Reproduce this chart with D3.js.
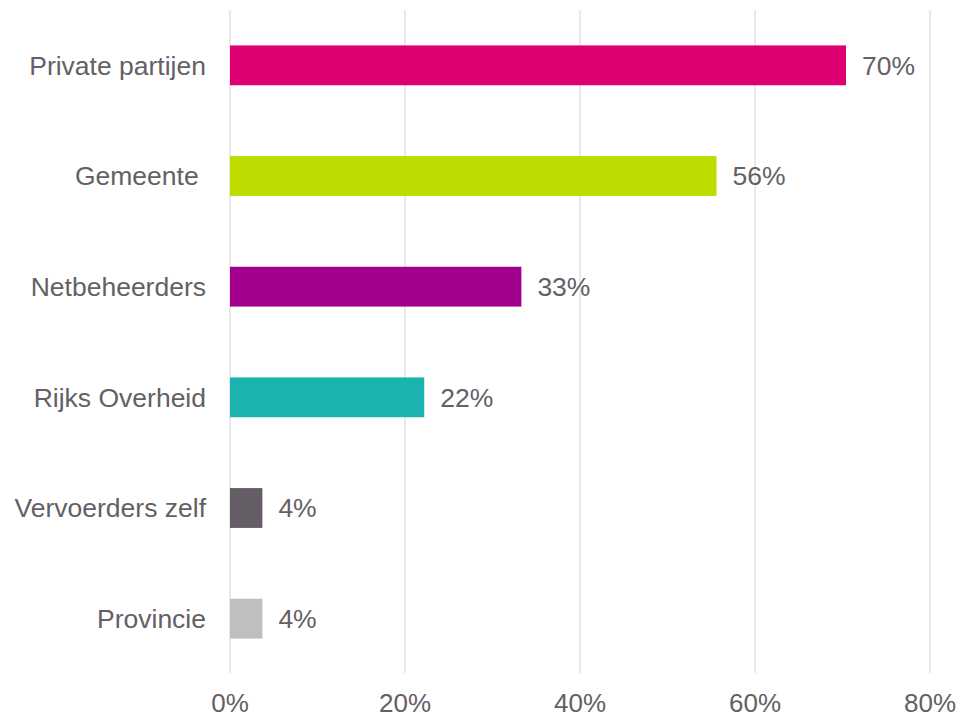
<!DOCTYPE html>
<html>
<head>
<meta charset="utf-8">
<script src="https://cdn.jsdelivr.net/npm/d3@7"></script>
<style>
  html, body { margin: 0; padding: 0; background: #fff; }
  svg text { font-family: "Liberation Sans", Arial, sans-serif; fill: #646066; }
</style>
</head>
<body>
<svg id="chart" width="958" height="718"></svg>
<script>
const categories = ["Private partijen", "Gemeente ", "Netbeheerders", "Rijks Overheid", "Vervoerders zelf", "Provincie"];
const values = [70.4, 55.6, 33.3, 22.2, 3.7, 3.7];
const valueLabels = ["70%", "56%", "33%", "22%", "4%", "4%"];
const colors = ["#DD0072", "#BFDC00", "#A2008C", "#1AB3AD", "#655D65", "#BFBEC0"];
const tickValues = [0, 20, 40, 60, 80];

const svg = d3.select("#chart");
const x = d3.scaleLinear().domain([0, 80]).range([230, 930]);
const y = d3.scaleBand().domain(categories).range([10, 674]).paddingInner(0.64).paddingOuter(0.32);

// gridlines
svg.append("g").selectAll("line").data(tickValues).join("line")
  .attr("x1", d => x(d)).attr("x2", d => x(d))
  .attr("y1", 10).attr("y2", 673)
  .attr("stroke", "#e2e2e2").attr("stroke-width", 1.5);

// bars
svg.append("g").selectAll("rect").data(categories).join("rect")
  .attr("x", x(0))
  .attr("y", d => y(d))
  .attr("width", (d, i) => x(values[i]) - x(0))
  .attr("height", y.bandwidth())
  .attr("fill", (d, i) => colors[i]);

// value labels
svg.append("g").selectAll("text").data(categories).join("text")
  .attr("x", (d, i) => x(values[i]) + 16)
  .attr("y", d => y(d) + y.bandwidth() / 2)
  .attr("dy", "0.35em")
  .attr("font-size", 26.5)
  .text((d, i) => valueLabels[i]);

// category labels
svg.append("g").selectAll("text").data(categories).join("text")
  .attr("x", 206)
  .attr("y", d => y(d) + y.bandwidth() / 2)
  .attr("dy", "0.35em")
  .attr("text-anchor", "end")
  .attr("font-size", 26.5)
  .style("white-space", "pre")
  .text(d => d);

// x axis tick labels
svg.append("g").selectAll("text").data(tickValues).join("text")
  .attr("x", d => x(d))
  .attr("y", 712)
  .attr("text-anchor", "middle")
  .attr("font-size", 26)
  .text(d => d + "%");
</script>
</body>
</html>
